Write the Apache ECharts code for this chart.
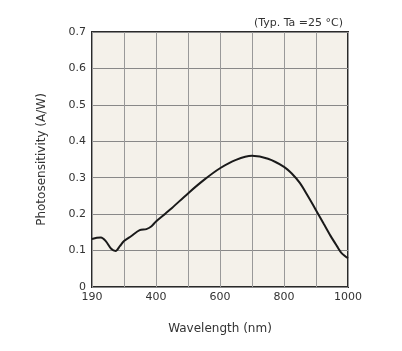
<!DOCTYPE html>
<html>
<head>
<meta charset="utf-8">
<script src="https://cdn.jsdelivr.net/npm/echarts@6/dist/echarts.min.js"></script>
<style>
  html, body { margin: 0; padding: 0; background: #fff; }
  #chart { width: 402px; height: 351px; }
</style>
</head>
<body>
<div id="chart"></div>
<script>
// wavelength positions on the axis grid (first gridline is labelled 190)
var wavelength = [200, 215, 228, 243, 260, 274, 287, 300, 323, 349, 370, 385, 400, 430, 450, 500, 550, 600, 650, 700, 750, 800, 825, 850, 875, 900, 925, 945, 965, 980, 1000]
var sensitivity = [0.132, 0.135, 0.136, 0.126, 0.105, 0.099, 0.112, 0.126, 0.140, 0.156, 0.159, 0.166, 0.180, 0.202, 0.217, 0.257, 0.294, 0.326, 0.349, 0.360, 0.352, 0.330, 0.311, 0.285, 0.249, 0.211, 0.172, 0.141, 0.113, 0.093, 0.079]
var xTickValues = [200, 400, 600, 800, 1000]
var xTickLabels = ['190', '400', '600', '800', '1000']

var chart = echarts.init(document.getElementById('chart'))
var font = 'DejaVu Sans'
var option = {
  animation: false,
  title: {
    text: '(Typ. Ta =25 \u00B0C)',
    right: 54,
    top: 13,
    textStyle: { fontFamily: font, fontSize: 11, fontWeight: 'normal', color: '#333' }
  },
  grid: {
    left: 92,
    right: 54,
    top: 32,
    bottom: 64,
    show: true,
    backgroundColor: '#f4f1ea',
    borderColor: '#2a2a2a',
    borderWidth: 2
  },
  xAxis: {
    type: 'value',
    min: 200,
    max: 1000,
    interval: 100,
    name: 'Wavelength (nm)',
    nameLocation: 'middle',
    nameGap: 36,
    nameTextStyle: { fontFamily: font, fontSize: 12, color: '#333' },
    axisLine: { show: false },
    axisTick: { show: false },
    axisLabel: {
      fontFamily: font,
      fontSize: 11,
      color: '#333',
      margin: 5,
      formatter: function (v) {
        var i = xTickValues.indexOf(v)
        return i >= 0 ? xTickLabels[i] : ''
      }
    },
    splitLine: { lineStyle: { color: '#999', width: 1 } }
  },
  yAxis: {
    type: 'value',
    min: 0,
    max: 0.7,
    interval: 0.1,
    name: 'Photosensitivity (A/W)',
    nameLocation: 'middle',
    nameGap: 44,
    nameTextStyle: { fontFamily: font, fontSize: 12, color: '#333' },
    axisLine: { show: false },
    axisTick: { show: false },
    axisLabel: {
      fontFamily: font,
      fontSize: 11,
      color: '#333',
      margin: 6,
      formatter: function (v) { return v === 0 ? '0' : v.toFixed(1) }
    },
    splitLine: { lineStyle: { color: '#888', width: 1 } }
  },
  series: [
    {
      type: 'line',
      data: wavelength.map(function (w, i) { return [w, sensitivity[i]] }),
      smooth: 0.3,
      symbol: 'none',
      lineStyle: { color: '#1a1a1a', width: 2 }
    }
  ]
}
chart.setOption(option)
</script>
</body>
</html>
